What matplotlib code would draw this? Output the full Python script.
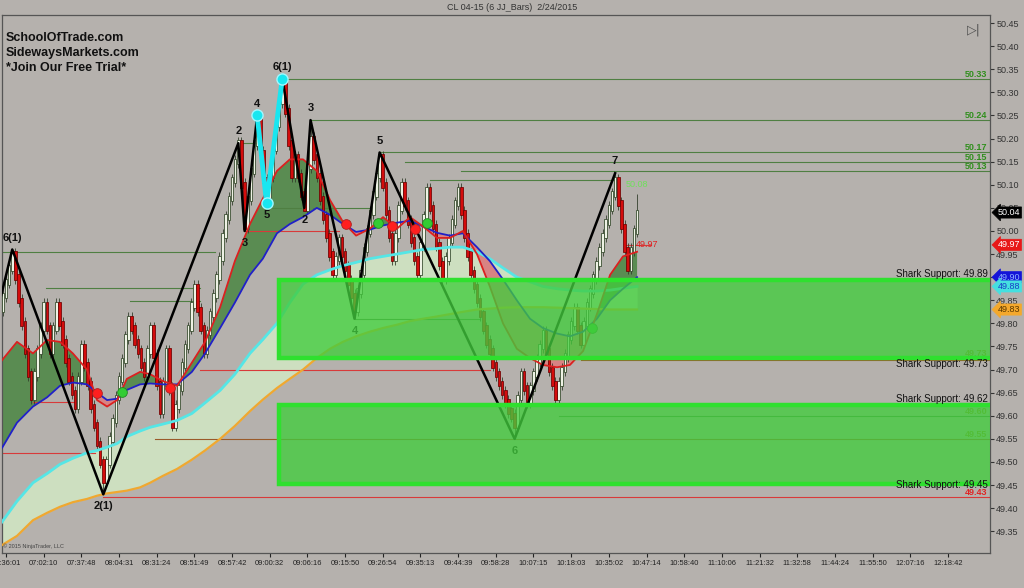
import matplotlib
matplotlib.use('Agg')
import matplotlib.pyplot as plt
import matplotlib.transforms as mtransforms
from matplotlib.patches import Rectangle
import numpy as np

plt.rcParams['font.family'] = ['Liberation Sans', 'DejaVu Sans']

BG = '#b5b1ad'

# ---- price bars (one entry per bar, first bar at index -1) ----
first_bar = -1
first_open = 49.83
closes = [
    49.86, 49.89, 49.92, 49.95, 49.90, 49.85, 49.80, 49.74, 49.69, 49.64,
    49.69, 49.74, 49.79, 49.84, 49.79, 49.74, 49.79, 49.84, 49.80, 49.76,
    49.72, 49.68, 49.65, 49.62, 49.68, 49.75, 49.71, 49.67, 49.62, 49.58,
    49.54, 49.50, 49.46, 49.50, 49.55, 49.59, 49.64, 49.68, 49.72, 49.77,
    49.81, 49.79, 49.76, 49.74, 49.71, 49.69, 49.74, 49.79, 49.73, 49.67,
    49.61, 49.67, 49.74, 49.66, 49.58, 49.62, 49.66, 49.71, 49.75, 49.79,
    49.84, 49.88, 49.83, 49.79, 49.74, 49.78, 49.82, 49.86, 49.90, 49.94,
    49.99, 50.03, 50.07, 50.11, 50.15, 50.19, 50.10, 50.01, 50.07, 50.13,
    50.19, 50.24, 50.17, 50.11, 50.07, 50.12, 50.18, 50.23, 50.28, 50.32,
    50.26, 50.19, 50.12, 50.16, 50.12, 50.08, 50.05, 50.14, 50.20, 50.16,
    50.12, 50.07, 50.03, 49.99, 49.95, 49.91, 49.94, 49.98, 49.95, 49.92,
    49.89, 49.86, 49.83, 49.87, 49.91, 49.96, 50.00, 50.04, 50.08, 50.12,
    50.16, 50.10, 50.04, 49.99, 49.94, 49.99, 50.05, 50.10, 50.06, 50.02,
    49.98, 49.94, 49.91, 49.97, 50.03, 50.09, 50.05, 50.01, 49.97, 49.93,
    49.90, 49.94, 49.98, 50.02, 50.06, 50.09, 50.04, 49.99, 49.95, 49.91,
    49.88, 49.85, 49.82, 49.79, 49.76, 49.74, 49.71, 49.69, 49.67, 49.65,
    49.63, 49.61, 49.60, 49.58, 49.64, 49.69, 49.66, 49.63, 49.66, 49.69,
    49.72, 49.75, 49.78, 49.74, 49.70, 49.67, 49.64, 49.67, 49.70, 49.73,
    49.77, 49.80, 49.83, 49.79, 49.76, 49.80, 49.84, 49.87, 49.90, 49.93,
    49.96, 49.99, 50.02, 50.05, 50.08, 50.11, 50.06, 50.01, 49.96, 49.92,
    49.96, 50.00, 50.04,
]
wick_hi = {2: 49.96, 80: 50.25, 88: 50.33, 97: 50.24, 119: 50.17, 194: 50.125, 201: 50.08}
wick_lo = {31: 49.43, 76: 50.00, 83: 50.06, 95: 50.05, 111: 49.81, 162: 49.55}

# ---- moving averages, read at common bar positions ----
ma_x = [-1.3, 3.5, 8.6, 13.1, 17.2, 21.3, 25.8, 29.0, 32.2, 35.4, 38.5, 42.7, 45.9,
        50.0, 54.5, 59.2, 63.4, 68.2, 72.9, 77.7, 81.8, 86.3, 90.4, 94.6, 99.0,
        103.2, 107.3, 111.5, 115.9, 120.1, 124.5, 128.7, 132.8, 137.3, 141.4,
        145.5, 150.0, 154.1, 158.3, 162.7, 166.9, 171.0, 175.5, 179.6, 183.8,
        188.2, 192.4, 196.5, 201.0]
ma_red = [49.72, 49.76, 49.735, 49.764, 49.76, 49.735, 49.70, 49.634, 49.62, 49.634,
          49.68, 49.695, 49.69, 49.675, 49.665, 49.715, 49.76, 49.835, 49.935, 50.015,
          50.07, 50.13, 50.155, 50.155, 50.13, 50.067, 50.02, 49.99, 50.005, 50.03,
          50.005, 50.03, 50.01, 49.985, 49.985, 50.0, 49.95, 49.88, 49.80, 49.745,
          49.725, 49.71, 49.705, 49.71, 49.74, 49.82, 49.905, 49.945, 49.955]
ma_blue = [49.53, 49.585, 49.62, 49.64, 49.665, 49.672, 49.668, 49.65, 49.634, 49.637,
           49.656, 49.668, 49.67, 49.668, 49.668, 49.695, 49.735, 49.79, 49.845, 49.905,
           49.94, 49.995, 50.015, 50.03, 50.05, 50.035, 50.015, 49.998, 50.003, 50.012,
           50.018, 50.022, 50.01, 49.996, 49.99, 49.995, 49.965, 49.935, 49.895, 49.85,
           49.81, 49.79, 49.778, 49.772, 49.782, 49.81, 49.85, 49.875, 49.90]
ma_cyan = [49.37, 49.415, 49.455, 49.475, 49.495, 49.508, 49.52, 49.525, 49.532, 49.54,
           49.555, 49.567, 49.575, 49.582, 49.59, 49.605, 49.628, 49.655, 49.69, 49.735,
           49.765, 49.80, 49.845, 49.885, 49.905, 49.916, 49.925, 49.932, 49.94, 49.945,
           49.95, 49.955, 49.96, 49.962, 49.965, 49.965, 49.955, 49.94, 49.92, 49.90,
           49.89, 49.88, 49.875, 49.872, 49.87, 49.87, 49.872, 49.876, 49.88]
ma_orange = [49.32, 49.34, 49.374, 49.39, 49.403, 49.413, 49.42, 49.427, 49.432, 49.435,
             49.438, 49.445, 49.455, 49.47, 49.485, 49.505, 49.525, 49.55, 49.578, 49.61,
             49.635, 49.66, 49.68, 49.70, 49.725, 49.745, 49.76, 49.772, 49.782, 49.79,
             49.797, 49.805, 49.81, 49.815, 49.82, 49.825, 49.83, 49.832, 49.834, 49.835,
             49.835, 49.835, 49.834, 49.833, 49.832, 49.831, 49.83, 49.83, 49.83]

# ---- zigzag swings ----
zz_x = [-1.9, 2, 31, 74, 76, 80, 83, 88, 95, 97, 111, 119, 162, 194]
zz_y = [49.85, 49.96, 49.43, 50.19, 50.00, 50.25, 50.06, 50.33, 50.05, 50.24, 49.81, 50.17, 49.55, 50.125]
zz_lbl = ['', '6(1)', '2(1)', '2', '3', '4', '5', '6(1)', '2', '3', '4', '5', '6', '7']
cyan_leg = [5, 6, 7]  # positions in the zigzag lists drawn in cyan

# ---- crossover dots ----
dot_x = [29, 36.9, 52.2, 108.3, 118.5, 123, 130.3, 134, 186.6]
dot_y = [49.65, 49.652, 49.66, 50.015, 50.017, 50.01, 50.004, 50.017, 49.79]
dot_c = ['r', 'g', 'r', 'r', 'g', 'r', 'r', 'g', 'g']

# ---- support zones ----
zone_start = 87
zone_top = [49.894, 49.623]
zone_bot = [49.725, 49.452]
shark_lbl = ['Shark Support: 49.89', 'Shark Support: 49.73', 'Shark Support: 49.62', 'Shark Support: 49.45']
shark_y = [49.897, 49.722, 49.626, 49.45]
shark_va = ['bottom', 'top', 'bottom', 'center']

# ---- swing level lines: price, start bar, end bar, colour ----
lvl_p = [49.955, 49.877, 49.848, 50.19, 50.05, 50.05, 50.33, 50.24, 50.17, 50.15, 50.13, 50.11,
         49.81, 49.60, 49.72, 49.63, 49.52, 49.425, 49.70, 49.55, 50.00, 49.97]
lvl_a = [-1.9, 12.7, 39.5, 74, 83, 97.8, 88, 97, 119, 127, 145, 135,
         111, 176, 183, 8.6, -1.9, 31, 61.8, 47.5, 76, 197.5]
lvl_b = [66.6, 61.8, 61.8, 80, 94, 116, 320, 320, 320, 320, 320, 194,
         151, 320, 320, 22, 28.3, 320, 154, 320, 106, 205.5]
lvl_c = ['g', 'g', 'g', 'g', 'g', 'g', 'g', 'g', 'g', 'g', 'g', 'g',
         'g', 'g', 'o', 'r', 'r', 'r', 'r', 'o', 'r', 'r']

right_lbl = ['50.33', '50.24', '50.17', '50.15', '50.13', '49.73', '49.60', '49.55', '49.43']
right_lbl_y = [50.33, 50.24, 50.17, 50.15, 50.13, 49.725, 49.60, 49.55, 49.425]
right_lbl_c = ['#2f8f1c'] * 5 + ['#8c8a22', '#8c8a22', '#8c8a22', '#e02424']

tag_txt = ['50.04', '49.97', '49.90', '49.88', '49.83']
tag_y = [50.04, 49.97, 49.90, 49.88, 49.83]
tag_bg = ['#000000', '#e81818', '#1414d8', '#44e0e0', '#f4a82c']
tag_fg = ['white', 'white', '#8fb0ff', '#1a3cc8', '#5a3800']

times = ['06:36:01', '07:02:10', '07:37:48', '08:04:31', '08:31:24', '08:51:49', '08:57:42',
         '09:00:32', '09:06:16', '09:15:50', '09:26:54', '09:35:13', '09:44:39', '09:58:28',
         '10:07:15', '10:18:03', '10:35:02', '10:47:14', '10:58:40', '11:10:06', '11:21:32',
         '11:32:58', '11:44:24', '11:55:50', '12:07:16', '12:18:42']

fig = plt.figure(figsize=(10.24, 5.88), dpi=100, facecolor=BG)
ax = fig.add_axes([2 / 1024, 1 - 553 / 588, 988 / 1024, 538 / 588], facecolor=BG)
ax.set_xlim(-1.27, 313.4)
ax.set_ylim(49.303, 50.4675)

# cloud between slow averages
mx = np.array(ma_x)
ax.fill_between(mx, ma_cyan, ma_orange, color='#cfe2c2', alpha=0.95, lw=0, zorder=1)
# ribbon between fast averages
r, b = np.array(ma_red), np.array(ma_blue)
ax.fill_between(mx, r, b, where=r >= b, interpolate=True, color='#5a8c52', lw=0, zorder=1.5)
ax.fill_between(mx, r, b, where=r < b, interpolate=True, color='#d88383', lw=0, zorder=1.5)

# level lines
cmap = {'g': '#4f7f42', 'r': '#d83a3a', 'o': '#9a5a2a'}
for p, a, e, col in zip(lvl_p, lvl_a, lvl_b, lvl_c):
    ax.plot([a, e], [p, p], color=cmap[col], lw=0.8, zorder=1.8)

# bars
idx = np.arange(len(closes)) + first_bar
c = np.array(closes)
o = np.concatenate([[first_open], c[:-1]])
up = c >= o
body_lo = np.minimum(o, c) - 0.006
body_hi = np.maximum(o, c) + 0.006
hi = body_hi + 0.008
lo = body_lo - 0.008
for k, v in wick_hi.items():
    hi[k - first_bar] = v
for k, v in wick_lo.items():
    lo[k - first_bar] = v
ax.vlines(idx, lo, hi, color='#34402e', lw=0.6, zorder=2.8)
ax.bar(idx[up], (body_hi - body_lo)[up], bottom=body_lo[up], width=0.82, color='#eef2e4',
       edgecolor='#2f4426', lw=0.55, zorder=3)
ax.bar(idx[~up], (body_hi - body_lo)[~up], bottom=body_lo[~up], width=0.82, color='#d40c0c',
       edgecolor='#6e0000', lw=0.55, zorder=3)

# averages
ax.plot(mx, ma_orange, color='#f0a830', lw=1.6, zorder=3.4)
ax.plot(mx, ma_cyan, color='#55e6e6', lw=2.0, zorder=3.4)
ax.plot(mx, ma_blue, color='#2020c8', lw=1.3, zorder=3.5)
ax.plot(mx, ma_red, color='#dc2020', lw=1.3, zorder=3.5)

# zigzag
ax.plot(zz_x, zz_y, color='black', lw=1.8, zorder=4)
ax.plot([zz_x[k] for k in cyan_leg], [zz_y[k] for k in cyan_leg], color='#19e6f0', lw=3.5,
        marker='o', ms=8, mfc='#19e6f0', mec='#9ff8ff', zorder=4.2)
for k in range(1, len(zz_x)):
    above = zz_y[k] > zz_y[k - 1]
    ax.annotate(zz_lbl[k], (zz_x[k], zz_y[k]), xytext=(0, 5 if above else -5),
                textcoords='offset points', ha='center', va='bottom' if above else 'top',
                fontsize=8, fontweight='bold', color='#111111', zorder=4.5)

# dots
dcol = {'r': '#ff1f1f', 'g': '#33cc33'}
for x, y, k in zip(dot_x, dot_y, dot_c):
    ax.plot(x, y, 'o', ms=7, color=dcol[k], mec='#aa2222' if k == 'r' else '#228822',
            mew=0.6, zorder=4.6)

# right level labels (under the zones)
for t, y, col in zip(right_lbl, right_lbl_y, right_lbl_c):
    ax.text(312.6, y, t, ha='right', va='bottom', fontsize=6.5, fontweight='bold',
            color=col, zorder=5)
ax.text(201, 50.09, '50.08', ha='center', va='bottom', fontsize=6.5,
        color='#6ee05a', zorder=5)
ax.text(200.5, 49.97, '49.97', ha='left', va='center', fontsize=6.5, color='#e02020', zorder=5)

# zones
for t, bt in zip(zone_top, zone_bot):
    ax.add_patch(Rectangle((zone_start, bt), 240, t - bt, fc=(0.26, 0.80, 0.24, 0.78),
                           ec='#2fe02f', lw=3.2, zorder=6))

for t, y, va in zip(shark_lbl, shark_y, shark_va):
    ax.text(312.6, y, t, ha='right', va=va, fontsize=7, color='#111111', zorder=7)

# right-hand price tags
trans = mtransforms.blended_transform_factory(ax.transAxes, ax.transData)
for t, y, bg, fg in zip(tag_txt, tag_y, tag_bg, tag_fg):
    ax.text(1.008, y, t, transform=trans, ha='left', va='center', fontsize=6.5, color=fg,
            clip_on=False, zorder=8,
            bbox=dict(boxstyle='larrow,pad=0.12', fc=bg, ec=bg, lw=0.5))

# axes cosmetics
ax.yaxis.tick_right()
yt = np.arange(49.35, 50.451, 0.05)
ax.set_yticks(yt)
ax.set_yticklabels(['%.2f' % v for v in yt])
ax.tick_params(axis='y', labelsize=6.5, colors='#333333', length=3, pad=1.5)
ax.set_xticks(np.arange(0, 12 * len(times), 12))
ax.set_xticklabels(times)
ax.tick_params(axis='x', labelsize=5.4, colors='#222222', length=3, pad=2)
for s in ax.spines.values():
    s.set_color('#555555')
    s.set_linewidth(0.9)

# texts
fig.text(0.5, 0.988, 'CL 04-15 (6 JJ_Bars)  2/24/2015', ha='center', va='center',
         fontsize=6.5, color='#333333')
for k, t in enumerate(['SchoolOfTrade.com', 'SidewaysMarkets.com', '*Join Our Free Trial*']):
    ax.text(0.004, 0.958 - k * 0.028, t, transform=ax.transAxes, ha='left', va='center',
            fontsize=9, fontweight='bold', color='#111111', zorder=8)
ax.text(0.991, 0.985, '\u25b7|', transform=ax.transAxes, ha='right', va='top', fontsize=9,
        color='#505050', family='DejaVu Sans', zorder=8)
ax.text(0.001, 0.008, '\u00a9 2015 NinjaTrader, LLC', transform=ax.transAxes, ha='left',
        va='bottom', fontsize=4, color='#444444', zorder=8)

fig.savefig('out.png', dpi=100, facecolor=BG)
